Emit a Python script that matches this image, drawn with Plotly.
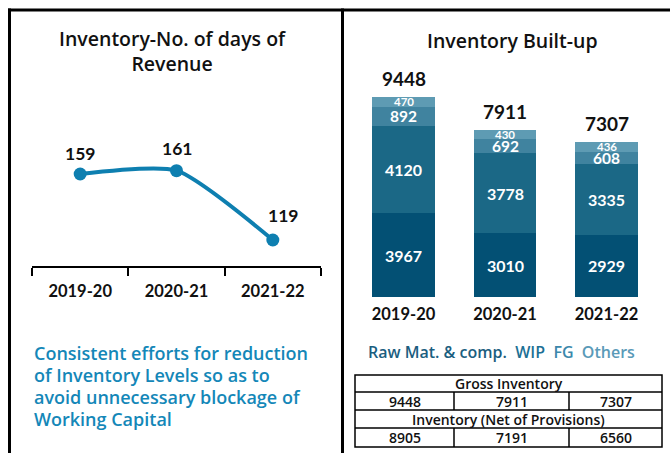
import plotly.graph_objects as go

# ---- data ----
years = ["2019-20", "2020-21", "2021-22"]
days_of_revenue = [159, 161, 119]

components = ["Raw Mat. & comp.", "WIP", "FG", "Others"]
raw_mat = [3967, 3010, 2929]
wip = [4120, 3778, 3335]
fg = [892, 692, 608]
others = [470, 430, 436]
gross_inventory = [9448, 7911, 7307]
net_inventory = [8905, 7191, 6560]

commentary = ["Consistent efforts for reduction",
              "of Inventory Levels so as to",
              "avoid unnecessary blockage of",
              "Working Capital"]

# ---- styling ----
W, H = 671, 453
NUM_FONT = "Lato"
TXT_FONT = "Open Sans"
LINE_BLUE = "#0e7fb0"
BAR_COLORS = ["#035074", "#1b6886", "#40839f", "#5e9bb3"]
LEGEND_COLORS = ["#1b5e7f", "#1c7095", "#3b88ab", "#5a9ab8"]
SEG_FONT = [16, 16, 15.5, 11.5]


def px(x):
    return x / W


def py(y):
    return 1 - y / H


fig = go.Figure()

# left: inventory days line
fig.add_trace(go.Scatter(
    x=years, y=days_of_revenue, mode="lines+markers",
    line=dict(color=LINE_BLUE, width=4, shape="spline", smoothing=0.6),
    marker=dict(color=LINE_BLUE, size=13),
    xaxis="x", yaxis="y", cliponaxis=False, hoverinfo="skip",
))

# right: stacked inventory build-up
series = [raw_mat, wip, fg, others]
for name, vals, col in zip(components, series, BAR_COLORS):
    fig.add_trace(go.Bar(
        x=years, y=vals, name=name, marker=dict(color=col, line=dict(width=0)),
        xaxis="x2", yaxis="y2", hoverinfo="skip",
    ))

annotations = []

# point labels on the line
label_shift = [(0, 8), (0, 10), (10, 12)]
for yr, v, (dx, dy) in zip(years, days_of_revenue, label_shift):
    annotations.append(dict(
        x=yr, y=v, xref="x", yref="y", text=str(v), showarrow=False,
        xanchor="center", yanchor="bottom", xshift=dx, yshift=dy,
        font=dict(family=NUM_FONT, size=17.5, color="#111111", weight=700),
    ))

# segment labels inside bars
for i, yr in enumerate(years):
    base = 0
    for k, vals in enumerate(series):
        v = vals[i]
        annotations.append(dict(
            x=yr, y=base + v / 2, xref="x2", yref="y2", text=str(v),
            showarrow=False, xanchor="center", yanchor="middle",
            font=dict(family=NUM_FONT, size=SEG_FONT[k], color="white", weight=700),
        ))
        base += v
    annotations.append(dict(
        x=yr, y=gross_inventory[i], xref="x2", yref="y2",
        text=str(gross_inventory[i]), showarrow=False,
        xanchor="center", yanchor="bottom", yshift=5,
        font=dict(family=NUM_FONT, size=19, color="#111111", weight=700),
    ))

# titles
TITLE_FONT = dict(family=TXT_FONT, size=19.5, color="#111111", weight=600)
annotations.append(dict(
    x=px(172), y=py(51), xref="paper", yref="paper",
    text="Inventory-No. of days of<br>Revenue", showarrow=False,
    xanchor="center", yanchor="middle", align="center", font=TITLE_FONT,
))
annotations.append(dict(
    x=px(512), y=py(40), xref="paper", yref="paper",
    text="Inventory Built-up", showarrow=False,
    xanchor="center", yanchor="middle", font=TITLE_FONT,
))

# commentary text, one line per annotation for even spacing
for n, line in enumerate(commentary):
    annotations.append(dict(
        x=px(32), y=py(353 + 22 * n), xref="paper", yref="paper",
        text=line, showarrow=False, xanchor="left", yanchor="middle",
        font=dict(family=TXT_FONT, size=18, color="#1487b8", weight=600),
    ))

# colour-coded legend
legend_txt = "&nbsp;&nbsp;".join(
    f"<span style='color:{c}'>{n.replace('&', '&amp;')}</span>"
    for n, c in zip(components, LEGEND_COLORS)
)
annotations.append(dict(
    x=px(366), y=py(352), xref="paper", yref="paper", text=legend_txt,
    showarrow=False, xanchor="left", yanchor="middle",
    font=dict(family=TXT_FONT, size=16, weight=600),
))

# inventory table
T_X0, T_X1 = 355, 662
ROWS = [375, 392, 410, 428, 447]
COLS = [355, 454, 569, 662]
shapes = [dict(type="rect", xref="paper", yref="paper",
               x0=px(T_X0), x1=px(T_X1), y0=py(ROWS[0]), y1=py(ROWS[-1]),
               line=dict(color="black", width=1.5))]
for r in ROWS[1:-1]:
    shapes.append(dict(type="line", xref="paper", yref="paper",
                       x0=px(T_X0), x1=px(T_X1), y0=py(r), y1=py(r),
                       line=dict(color="black", width=1.5)))
for r0, r1 in [(ROWS[1], ROWS[2]), (ROWS[3], ROWS[4])]:
    for c in COLS[1:-1]:
        shapes.append(dict(type="line", xref="paper", yref="paper",
                           x0=px(c), x1=px(c), y0=py(r0), y1=py(r1),
                           line=dict(color="black", width=1.5)))

TFONT = dict(family=TXT_FONT, size=14, color="#111111", weight=600)
table_rows = [("Gross Inventory", gross_inventory),
              ("Inventory (Net of Provisions)", net_inventory)]
for j, (head, vals) in enumerate(table_rows):
    rh0, rh1 = ROWS[2 * j], ROWS[2 * j + 1]
    annotations.append(dict(
        x=px((T_X0 + T_X1) / 2), y=py((rh0 + rh1) / 2), xref="paper", yref="paper",
        text=head, showarrow=False, xanchor="center", yanchor="middle", font=TFONT))
    rv0, rv1 = ROWS[2 * j + 1], ROWS[2 * j + 2]
    for c in range(3):
        annotations.append(dict(
            x=px((COLS[c] + COLS[c + 1]) / 2), y=py((rv0 + rv1) / 2),
            xref="paper", yref="paper", text=str(vals[c]), showarrow=False,
            xanchor="center", yanchor="middle", font=TFONT))

# panel frame
FRAME = dict(color="black", width=3)
shapes += [
    dict(type="line", xref="paper", yref="paper", x0=px(8), x1=px(670),
         y0=py(10), y1=py(10), line=FRAME),
    dict(type="line", xref="paper", yref="paper", x0=px(9.5), x1=px(9.5),
         y0=py(8.5), y1=py(453), line=FRAME),
    dict(type="line", xref="paper", yref="paper", x0=px(342.5), x1=px(342.5),
         y0=py(8.5), y1=py(453), line=FRAME),
]

fig.update_layout(
    width=W, height=H, margin=dict(l=0, r=0, t=0, b=0),
    paper_bgcolor="white", plot_bgcolor="white",
    showlegend=False, barmode="stack", bargap=0.38,
    annotations=annotations, shapes=shapes,
    xaxis=dict(domain=[px(32), px(321)], type="category", range=[-0.5, 2.5],
               anchor="y", showline=True, linecolor="black", linewidth=2,
               ticks="outside", tickson="boundaries", ticklen=8,
               tickwidth=2, tickcolor="black", showgrid=False, zeroline=False,
               ticklabelstandoff=9,
               tickfont=dict(family=NUM_FONT, size=16.5, color="#111111", weight=700)),
    yaxis=dict(domain=[py(266), py(147.6)], range=[103.24, 175],
               anchor="x", visible=False),
    xaxis2=dict(domain=[px(352.75), px(657.25)], type="category", range=[-0.5, 2.5],
                anchor="y2", showline=False, ticks="", showgrid=False,
                zeroline=False, ticklabelstandoff=5,
                tickfont=dict(family=NUM_FONT, size=16.5, color="#111111", weight=700)),
    yaxis2=dict(domain=[py(297), py(74.7)], range=[0, 10500],
                anchor="x2", visible=False),
)

fig.write_html("out.html")
